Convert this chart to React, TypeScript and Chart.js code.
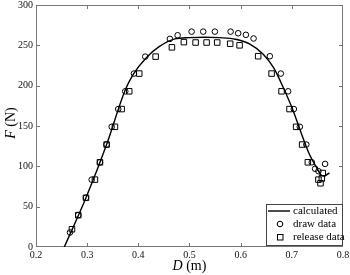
import { useEffect, useRef } from "react";
import { Chart, registerables } from "chart.js";

Chart.register(...registerables);

const xTicks = [0.2, 0.3, 0.4, 0.5, 0.6, 0.7, 0.8];
const yTicks = [0, 50, 100, 150, 200, 250, 300];

const calcD = [0.2553, 0.2977, 0.338, 0.374, 0.39, 0.416, 0.44, 0.4715, 0.50, 0.53, 0.56, 0.59, 0.618, 0.644, 0.664, 0.683, 0.7026, 0.719, 0.735, 0.748, 0.756, 0.763, 0.7736];
const calcF = [0, 61, 127, 194, 214, 235, 248, 258, 259.5, 260, 259.5, 257.5, 251.5, 239, 222.6, 198, 169, 140, 114, 99, 90, 88, 92];

const drawD = [0.2664, 0.2826, 0.2977, 0.3088, 0.325, 0.338, 0.3479, 0.3607, 0.3744, 0.3914, 0.4135, 0.4617, 0.4768, 0.5041, 0.5268, 0.5496, 0.5803, 0.5951, 0.6102, 0.6252, 0.657, 0.6785, 0.6928, 0.7039, 0.7156, 0.7283, 0.739, 0.7455, 0.752, 0.765];
const drawF = [18, 39.5, 61, 83.5, 105, 127, 149, 171, 193, 215, 236, 258, 262.5, 267, 267, 267, 267, 265, 263, 258.5, 236.5, 215, 193, 171, 149, 127, 105, 97, 94, 103];

const releaseD = [0.2703, 0.2826, 0.2977, 0.3152, 0.325, 0.338, 0.3543, 0.3674, 0.3822, 0.4018, 0.4338, 0.4656, 0.489, 0.5119, 0.5334, 0.5541, 0.5795, 0.5979, 0.6342, 0.6604, 0.6799, 0.6955, 0.7084, 0.7201, 0.7313, 0.752, 0.7586, 0.756, 0.7605];
const releaseF = [22, 39.5, 61, 83.5, 105, 127, 149, 171, 193, 215, 236, 247.5, 254, 253.5, 253.5, 253.5, 252, 250, 236.5, 215, 193, 171, 149, 127, 105, 83.5, 85, 79, 91.7];

const legendLabels = ["calculated", "draw data", "release data"];
const xTitle = ["D", " (m)"];
const yTitle = ["F", " (N)"];

const SERIF = "'Liberation Serif', 'DejaVu Serif', serif";

const framePlugin = {
  id: "frame",
  beforeDatasetsDraw(chart: any) {
    const { ctx, chartArea, scales } = chart;
    const { left, right, top, bottom } = chartArea;
    ctx.save();
    ctx.strokeStyle = "#777";
    ctx.lineWidth = 1;
    ctx.strokeRect(left + 0.5, top + 0.5, right - left - 1, bottom - top - 1);
    ctx.beginPath();
    for (const v of xTicks.slice(1, -1)) {
      const px = Math.round(scales.x.getPixelForValue(v)) + 0.5;
      ctx.moveTo(px, bottom);
      ctx.lineTo(px, bottom - 4);
      ctx.moveTo(px, top);
      ctx.lineTo(px, top + 4);
    }
    for (const v of yTicks.slice(1, -1)) {
      const py = Math.round(scales.y.getPixelForValue(v)) + 0.5;
      ctx.moveTo(left, py);
      ctx.lineTo(left + 4, py);
      ctx.moveTo(right, py);
      ctx.lineTo(right - 4, py);
    }
    ctx.stroke();
    ctx.restore();
  },
  afterDraw(chart: any) {
    const { ctx, chartArea } = chart;
    const { left, right, top, bottom } = chartArea;
    ctx.save();
    ctx.fillStyle = "#000";
    ctx.textBaseline = "alphabetic";
    // x title
    const italic = `italic 14px ${SERIF}`;
    const normal = `14px ${SERIF}`;
    ctx.font = italic;
    const w1 = ctx.measureText(xTitle[0]).width;
    ctx.font = normal;
    const w2 = ctx.measureText(xTitle[1]).width;
    let sx = (left + right) / 2 - (w1 + w2) / 2;
    ctx.font = italic;
    ctx.fillText(xTitle[0], sx, 270);
    ctx.font = normal;
    ctx.fillText(xTitle[1], sx + w1, 270);
    // y title
    ctx.save();
    ctx.translate(15, (top + bottom) / 2 - 3);
    ctx.rotate(-Math.PI / 2);
    ctx.font = italic;
    const v1 = ctx.measureText(yTitle[0]).width;
    ctx.font = normal;
    const v2 = ctx.measureText(yTitle[1]).width;
    const sy = -(v1 + v2) / 2;
    ctx.font = italic;
    ctx.fillText(yTitle[0], sy, 0);
    ctx.font = normal;
    ctx.fillText(yTitle[1], sy + v1, 0);
    ctx.restore();

    // legend
    const bx = 266, by = 204, bw = right - bx, bh = 41;
    ctx.fillStyle = "#fff";
    ctx.fillRect(bx, by, bw, bh);
    ctx.strokeStyle = "#444";
    ctx.lineWidth = 1;
    ctx.strokeRect(bx + 0.5, by + 0.5, bw - 1, bh);
    const rows = [211, 224, 237];
    ctx.strokeStyle = "#000";
    ctx.lineWidth = 1.4;
    ctx.beginPath();
    ctx.moveTo(268, rows[0]);
    ctx.lineTo(290, rows[0]);
    ctx.stroke();
    ctx.lineWidth = 1;
    ctx.beginPath();
    ctx.arc(280, rows[1], 2.8, 0, Math.PI * 2);
    ctx.stroke();
    ctx.strokeRect(277.5, rows[2] - 2.5, 5.5, 5.5);
    ctx.fillStyle = "#000";
    ctx.font = `11px ${SERIF}`;
    ctx.textBaseline = "middle";
    legendLabels.forEach((t, i) => ctx.fillText(t, 293, rows[i]));
    ctx.restore();
  },
};

export default function App() {
  const ref = useRef<HTMLCanvasElement | null>(null);
  useEffect(() => {
    if (!ref.current) return;
    const chart = new Chart(ref.current, {
      type: "scatter",
      data: {
        datasets: [
          {
            label: legendLabels[0],
            data: calcD.map((d, i) => ({ x: d, y: calcF[i] })),
            showLine: true,
            borderColor: "#000",
            borderWidth: 1.4,
            pointRadius: 0,
            cubicInterpolationMode: "monotone",
            fill: false,
          } as any,
          {
            label: legendLabels[1],
            data: drawD.map((d, i) => ({ x: d, y: drawF[i] })),
            pointStyle: "circle",
            pointRadius: 2.8,
            pointBorderWidth: 1,
            borderColor: "#000",
            backgroundColor: "rgba(255,255,255,0)",
          },
          {
            label: legendLabels[2],
            data: releaseD.map((d, i) => ({ x: d, y: releaseF[i] })),
            pointStyle: "rect",
            pointRadius: 3.9,
            pointBorderWidth: 1,
            borderColor: "#000",
            backgroundColor: "rgba(255,255,255,0)",
          },
        ],
      },
      options: {
        responsive: false,
        animation: false,
        layout: { padding: { left: 0, right: 7, top: 4, bottom: 0 } },
        plugins: { legend: { display: false }, tooltip: { enabled: false } },
        scales: {
          x: {
            type: "linear",
            min: 0.2,
            max: 0.8,
            grid: { display: false, drawTicks: false },
            border: { display: false },
            ticks: {
              padding: 2,
              color: "#111",
              font: { family: SERIF, size: 10 },
              callback: (v: any) => String(Math.round(Number(v) * 10) / 10),
            },
            afterBuildTicks: (s: any) => {
              s.ticks = xTicks.map((v) => ({ value: v }));
            },
            afterFit: (s: any) => {
              s.height = 28;
              s.paddingLeft = 0;
              s.paddingRight = 0;
            },
          },
          y: {
            type: "linear",
            min: 0,
            max: 300,
            grid: { display: false, drawTicks: false },
            border: { display: false },
            ticks: {
              padding: 3,
              color: "#111",
              font: { family: SERIF, size: 10 },
            },
            afterBuildTicks: (s: any) => {
              s.ticks = yTicks.map((v) => ({ value: v }));
            },
            afterFit: (s: any) => {
              s.width = 36;
              s.paddingTop = 0;
              s.paddingBottom = 0;
            },
          },
        },
      },
      plugins: [framePlugin],
    });
    return () => chart.destroy();
  }, []);
  return (
    <div style={{ position: "absolute", left: 0, top: 0, width: 350, height: 275, background: "#fff" }}>
      <canvas ref={ref} width={350} height={275} />
    </div>
  );
}
